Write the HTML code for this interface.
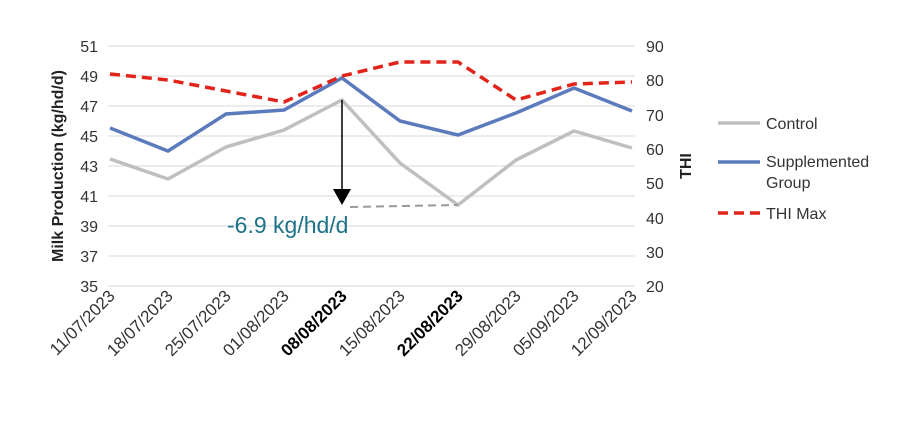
<!DOCTYPE html>
<html><head><style>body{margin:0;background:#fff}svg{display:block}</style></head><body>
<svg width="900" height="444" xmlns="http://www.w3.org/2000/svg" font-family="Liberation Sans, Arial, sans-serif">
<g stroke="#d9d9d9" stroke-width="1">
<line x1="108" y1="46" x2="635" y2="46"/><line x1="108" y1="76" x2="635" y2="76"/><line x1="108" y1="106" x2="635" y2="106"/><line x1="108" y1="136" x2="635" y2="136"/><line x1="108" y1="166" x2="635" y2="166"/><line x1="108" y1="196" x2="635" y2="196"/><line x1="108" y1="226" x2="635" y2="226"/><line x1="108" y1="256" x2="635" y2="256"/><line x1="108" y1="286" x2="635" y2="286"/>
</g>
<g font-size="16" fill="#333" text-anchor="end">
<text x="98" y="52">51</text><text x="98" y="82">49</text><text x="98" y="112">47</text><text x="98" y="142">45</text><text x="98" y="172">43</text><text x="98" y="202">41</text><text x="98" y="232">39</text><text x="98" y="262">37</text><text x="98" y="292">35</text>
</g>
<g font-size="16" fill="#333" text-anchor="start">
<text x="646" y="52">90</text><text x="646" y="86">80</text><text x="646" y="121">70</text><text x="646" y="155">60</text><text x="646" y="189">50</text><text x="646" y="224">40</text><text x="646" y="258">30</text><text x="646" y="292">20</text>
</g>
<text transform="translate(63,166) rotate(-90)" font-size="16" font-weight="bold" fill="#222" text-anchor="middle">Milk Production (kg/hd/d)</text>
<text transform="translate(691,166) rotate(-90)" font-size="16" font-weight="bold" fill="#222" text-anchor="middle">THI</text>
<g font-size="17" fill="#333" text-anchor="end">
<text transform="translate(116,297) rotate(-45)">11/07/2023</text>
<text transform="translate(174,297) rotate(-45)">18/07/2023</text>
<text transform="translate(232,297) rotate(-45)">25/07/2023</text>
<text transform="translate(290,297) rotate(-45)">01/08/2023</text>
<text transform="translate(348,297) rotate(-45)" font-weight="bold" fill="#000">08/08/2023</text>
<text transform="translate(406,297) rotate(-45)">15/08/2023</text>
<text transform="translate(464,297) rotate(-45)" font-weight="bold" fill="#000">22/08/2023</text>
<text transform="translate(522,297) rotate(-45)">29/08/2023</text>
<text transform="translate(580,297) rotate(-45)">05/09/2023</text>
<text transform="translate(638,297) rotate(-45)">12/09/2023</text>
</g>
<polyline fill="none" stroke="#bfbfbf" stroke-width="3.5" points="110,159 168,179 226,147 284,130 342,100 400,163 458,205 516,160 574,131 632,148"/>
<polyline fill="none" stroke="#5b7bbd" stroke-width="3.5" points="110,128 168,151 226,114 284,110 342,78 400,121 458,135 516,113 574,88 632,111"/>
<polyline fill="none" stroke="#e2231a" stroke-width="3.5" stroke-dasharray="10,6" points="110,74 168,80 226,91 284,102 342,76 400,62 458,62 516,100 574,84 632,82"/>
<line x1="342" y1="100" x2="342" y2="190" stroke="#000" stroke-width="1.5"/>
<polygon points="333,189 351,189 342,205" fill="#000"/>
<line x1="350" y1="207" x2="458" y2="205" stroke="#999" stroke-width="2" stroke-dasharray="8,5"/>
<text x="227" y="233" font-size="23" fill="#1f7389">-6.9 kg/hd/d</text>
<line x1="718" y1="123" x2="760" y2="123" stroke="#bfbfbf" stroke-width="3.5"/>
<text x="766" y="129" font-size="16" fill="#333">Control</text>
<line x1="718" y1="162" x2="760" y2="162" stroke="#5b7bbd" stroke-width="3.5"/>
<text x="766" y="167" font-size="16" fill="#333">Supplemented</text>
<text x="766" y="188" font-size="16" fill="#333">Group</text>
<line x1="718" y1="213" x2="760" y2="213" stroke="#e2231a" stroke-width="3.5" stroke-dasharray="10,6"/>
<text x="766" y="219" font-size="16" fill="#333">THI Max</text>
</svg>
</body></html>
